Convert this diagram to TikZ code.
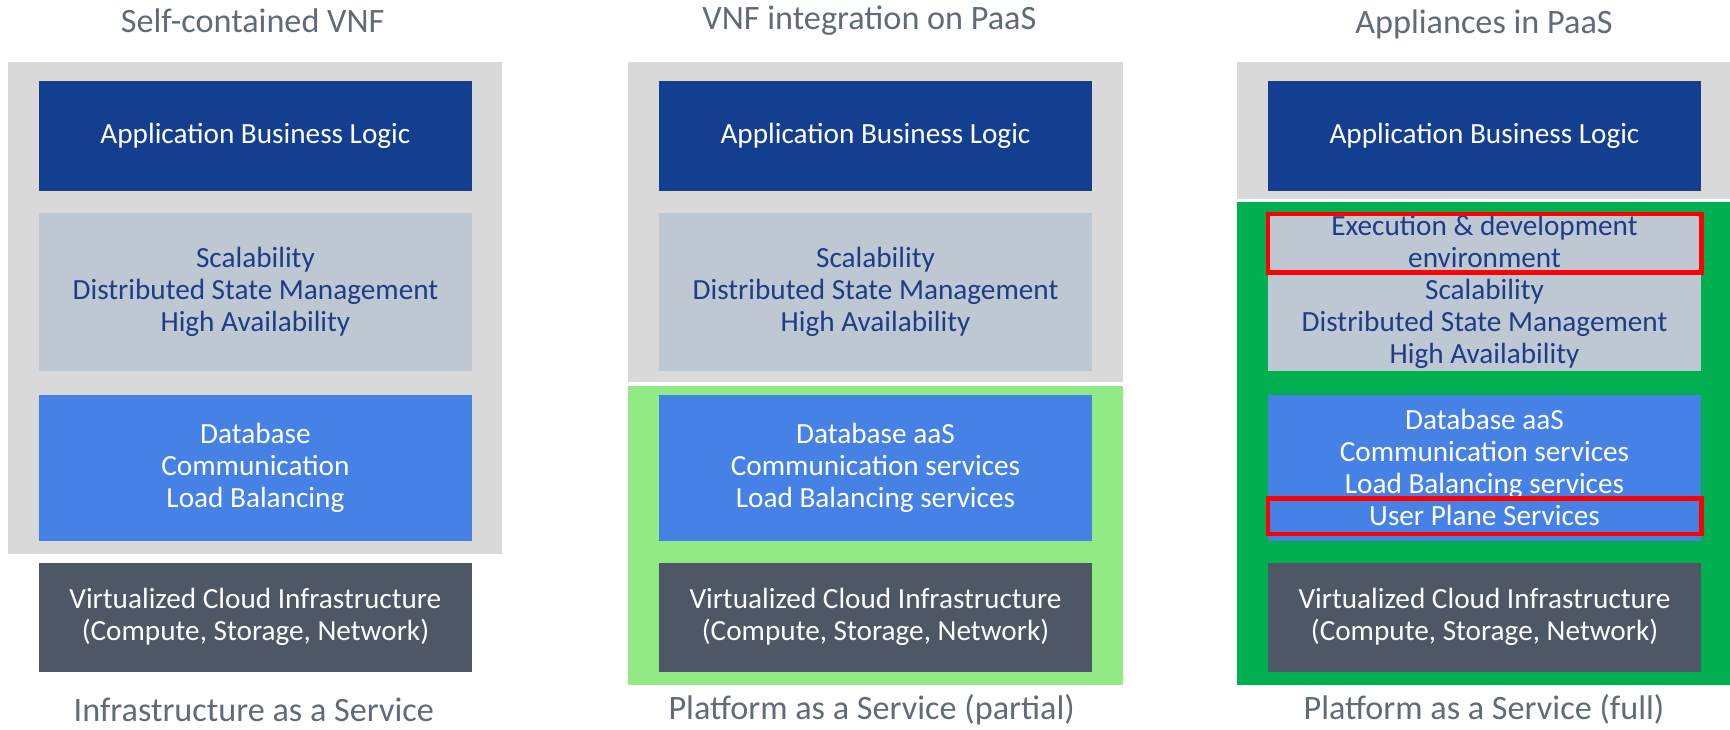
\documentclass[tikz,border=0pt]{standalone}
\usepackage{fontspec}
\setmainfont{Carlito}
\usepackage{tikz}
\usetikzlibrary{positioning}

\definecolor{appblue}{HTML}{143F91}
\definecolor{scalgrey}{HTML}{BEC8D2}
\definecolor{dbblue}{HTML}{4682E6}
\definecolor{infragrey}{HTML}{4E5766}
\definecolor{backgrey}{HTML}{D9D9D9}
\definecolor{paasgreen}{HTML}{92EA84}
\definecolor{fullgreen}{HTML}{00AF50}
\definecolor{textblue}{HTML}{1F3C88}
\definecolor{titlegrey}{HTML}{5F6B78}

\begin{document}
\begin{tikzpicture}[x=1pt, y=-1pt,
    layer/.style={rectangle, minimum width=393pt, inner sep=0pt, align=center,
        font=\fontsize{26.5}{29}\selectfont},
    appbox/.style={layer, fill=appblue, text=white, minimum height=100pt},
    scalbox/.style={layer, fill=scalgrey, text=textblue, minimum height=143pt},
    dbbox/.style={layer, fill=dbblue, text=white, minimum height=132pt},
    infrabox/.style={layer, fill=infragrey, text=white, minimum height=99pt},
    caption/.style={text=titlegrey, font=\fontsize{31}{36}\selectfont},
    redframe/.style={draw=red, line width=4pt}]

    \useasboundingbox (0,0) rectangle (1568,661);

    % Backgrounds
    \fill[backgrey] (7,56) rectangle (455,502);
    \fill[backgrey] (569,56) rectangle (1018,346);
    \fill[paasgreen] (569,350) rectangle (1018,621);
    \fill[backgrey] (1121,56) rectangle (1568,180);
    \fill[fullgreen] (1121,183) rectangle (1568,621);

    % Self-contained VNF
    \node[caption] (title1) at (229,19) {Self-contained VNF};
    \node[appbox] (app1) at (231.5,123) {Application Business Logic};
    \node[scalbox] (scal1) at (231.5,264.5) {Scalability\\Distributed State Management\\High Availability};
    \node[dbbox] (db1) at (231.5,424) {Database\\Communication\\Load Balancing};
    \node[infrabox] (infra1) at (231.5,559.5) {Virtualized Cloud Infrastructure\\(Compute, Storage, Network)};
    \node[caption] (foot1) at (230,643) {Infrastructure as a Service};

    % VNF integration on PaaS
    \node[caption] (title2) at (788,19) {VNF integration on PaaS};
    \node[appbox] (app2) at (793.5,123) {Application Business Logic};
    \node[scalbox] (scal2) at (793.5,264.5) {Scalability\\Distributed State Management\\High Availability};
    \node[dbbox] (db2) at (793.5,424) {Database aaS\\Communication services\\Load Balancing services};
    \node[infrabox] (infra2) at (793.5,559.5) {Virtualized Cloud Infrastructure\\(Compute, Storage, Network)};
    \node[caption] (foot2) at (790,643) {Platform as a Service (partial)};

    % Appliances in PaaS
    \node[caption] (title3) at (1345,22) {Appliances in PaaS};
    \node[appbox] (app3) at (1345.5,123) {Application Business Logic};
    \node[scalbox] (scal3) at (1345.5,264.5) {Execution \& development\\environment\\Scalability\\Distributed State Management\\High Availability};
    \node[dbbox] (db3) at (1345.5,424) {Database aaS\\Communication services\\Load Balancing services\\User Plane Services};
    \node[infrabox] (infra3) at (1345.5,559.5) {Virtualized Cloud Infrastructure\\(Compute, Storage, Network)};
    \node[caption] (foot3) at (1345,643) {Platform as a Service (full)};

    % Highlights
    \draw[redframe] (1149,194) rectangle (1542,247);
    \draw[redframe] (1149,452) rectangle (1542,484);
\end{tikzpicture}
\end{document}
